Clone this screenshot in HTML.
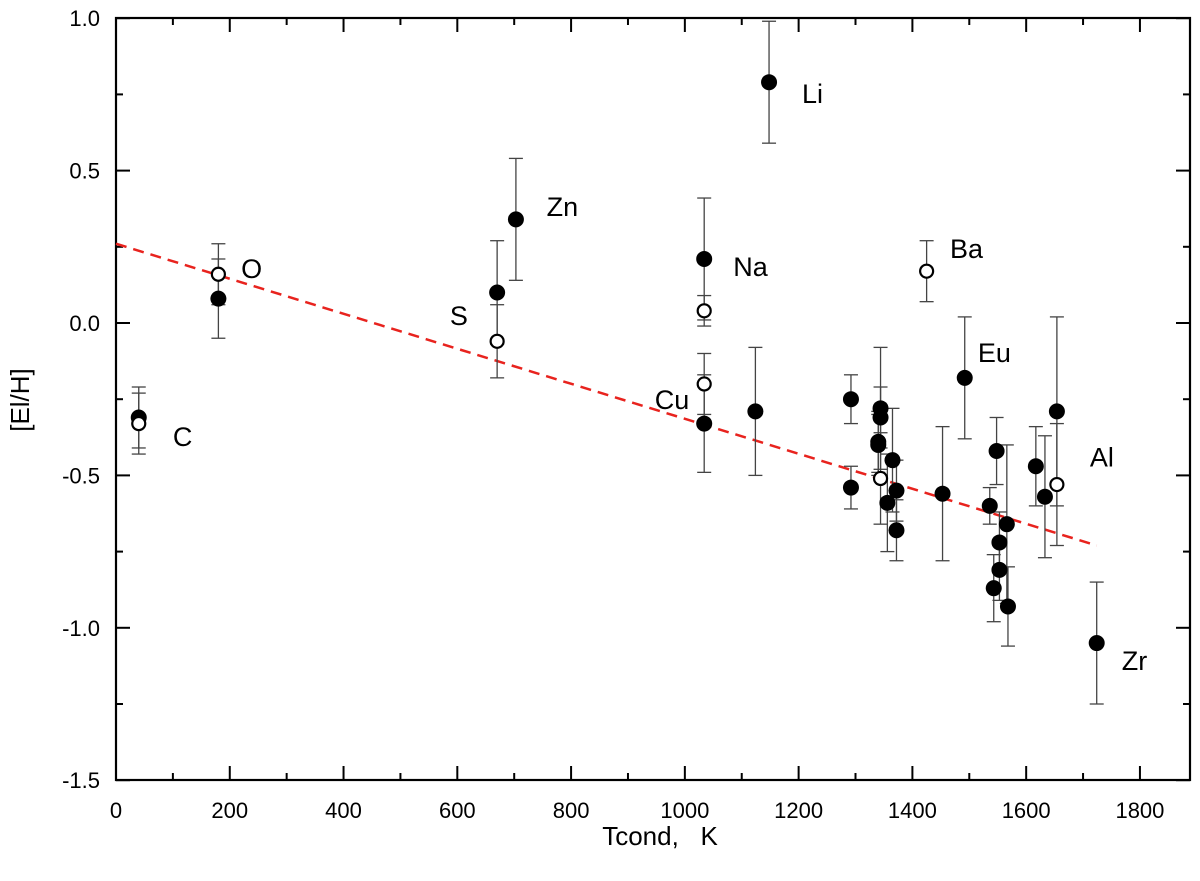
<!DOCTYPE html>
<html><head><meta charset="utf-8"><style>
body{margin:0;background:#fff;}
svg{display:block;font-family:"Liberation Sans",Arial,sans-serif;}
</style></head><body>
<svg id="chart" width="1200" height="881" viewBox="0 0 1200 881" xmlns="http://www.w3.org/2000/svg"></svg>
<script>
const filledT=[40,180,670,703,1034,1034,1148,1124,1492,1292,1292,1344,1344,1340,1340,1365,1372,1356,1372,1453,1548,1536,1566,1553,1553,1543,1568,1654,1617,1633,1724];
const filledV=[-0.31,0.08,0.10,0.34,0.21,-0.33,0.79,-0.29,-0.18,-0.25,-0.54,-0.28,-0.31,-0.39,-0.40,-0.45,-0.55,-0.59,-0.68,-0.56,-0.42,-0.60,-0.66,-0.72,-0.81,-0.87,-0.93,-0.29,-0.47,-0.57,-1.05];
const filledE=[0.1,0.13,0.17,0.2,0.2,0.16,0.2,0.21,0.2,0.08,0.07,0.2,0.1,0.1,0.1,0.17,0.1,0.16,0.1,0.22,0.11,0.06,0.26,0.1,0.1,0.11,0.13,0.31,0.13,0.2,0.2];
const openT=[40,180,670,1034,1034,1425,1344,1654];
const openV=[-0.33,0.16,-0.06,0.04,-0.20,0.17,-0.51,-0.53];
const openE=[0.1,0.1,0.12,0.05,0.1,0.1,0.15,0.2];
const labels=["C","O","S","Zn","Na","Cu","Li","Ba","Eu","Al","Zr"];
const labelT=[100,220,587,757,1085,947,1206,1466,1515,1712,1768];
const labelV=[-0.37,0.18,0.026,0.384,0.187,-0.25,0.754,0.246,-0.095,-0.438,-1.106];
const trendT=[0,1724];
const trendV=[0.26,-0.73];
const xTicks=[0,200,400,600,800,1000,1200,1400,1600,1800];
const yTicks=[-1.5,-1.0,-0.5,0.0,0.5,1.0];
const yTickLabels=["-1.5","-1.0","-0.5","0.0","0.5","1.0"];

const L=116,R=1190,T=18,B=780,XMAX=1888;
const sx=t=>L+t*(R-L)/XMAX;
const sy=v=>323-v*304.8;
const svg=document.getElementById('chart');
const NS='http://www.w3.org/2000/svg';
function mk(tag,attrs,parent){const e=document.createElementNS(NS,tag);for(const k in attrs)e.setAttribute(k,attrs[k]);(parent||svg).appendChild(e);return e;}

let frame=mk('rect',{x:L,y:T,width:R-L,height:B-T,fill:'none',stroke:'#000','stroke-width':2.2});



for(let t=0;t<=XMAX;t+=100){const major=t%200===0;const x=sx(t);const len=major?14:7;
 let a=mk('line',{x1:x,x2:x,y1:B,y2:B-len,stroke:'#000','stroke-width':2});
 
 let b=mk('line',{x1:x,x2:x,y1:T,y2:T+len,stroke:'#000','stroke-width':2});
 }
xTicks.forEach(t=>{let tx=mk('text',{x:sx(t),y:818,'font-size':22,'text-anchor':'middle'});tx.textContent=t;
 });
for(let v=-1.5;v<=1.001;v+=0.25){const major=Math.abs(v*2-Math.round(v*2))<1e-6;const y=sy(v);const len=major?14:7;
 let a=mk('line',{x1:L,x2:L+len,y1:y,y2:y,stroke:'#000','stroke-width':2});
 
 let b=mk('line',{x1:R,x2:R-len,y1:y,y2:y,stroke:'#000','stroke-width':2});
 }
yTicks.forEach((v,i)=>{let tx=mk('text',{x:100,y:sy(v)+8,'font-size':22,'text-anchor':'end'});tx.textContent=yTickLabels[i];
 });

let xt=mk('text',{x:660,y:845,'font-size':26,'text-anchor':'middle'});xt.textContent='Tcond,\u00a0\u00a0\u00a0K';

let yt=mk('text',{x:0,y:0,'font-size':26,'text-anchor':'middle',transform:'translate(29,400) rotate(-90)'});yt.textContent='[El/H]';


let tl=mk('line',{x1:sx(trendT[0]),y1:sy(trendV[0]),x2:sx(trendT[1]),y2:sy(trendV[1]),stroke:'#e8231e','stroke-width':2.5,'stroke-dasharray':'11,7'});


function errbar(t,v,e){const x=sx(t);const g=mk('g',{stroke:'#444','stroke-width':1.3});
 
 mk('line',{x1:x,x2:x,y1:sy(v+e),y2:sy(v-e)},g);
 mk('line',{x1:x-7,x2:x+7,y1:sy(v+e),y2:sy(v+e)},g);
 mk('line',{x1:x-7,x2:x+7,y1:sy(v-e),y2:sy(v-e)},g);}
filledT.forEach((t,i)=>errbar(t,filledV[i],filledE[i]));
openT.forEach((t,i)=>errbar(t,openV[i],openE[i]));
filledT.forEach((t,i)=>{let c=mk('circle',{cx:sx(t),cy:sy(filledV[i]),r:8,fill:'#000'});
 });
openT.forEach((t,i)=>{let c=mk('circle',{cx:sx(t),cy:sy(openV[i]),r:6.5,fill:'#fff',stroke:'#000','stroke-width':2.2});
 });
labels.forEach((s,i)=>{let tx=mk('text',{x:sx(labelT[i]),y:sy(labelV[i])+10,'font-size':27});tx.textContent=s;
 });
</script>
</body></html>
